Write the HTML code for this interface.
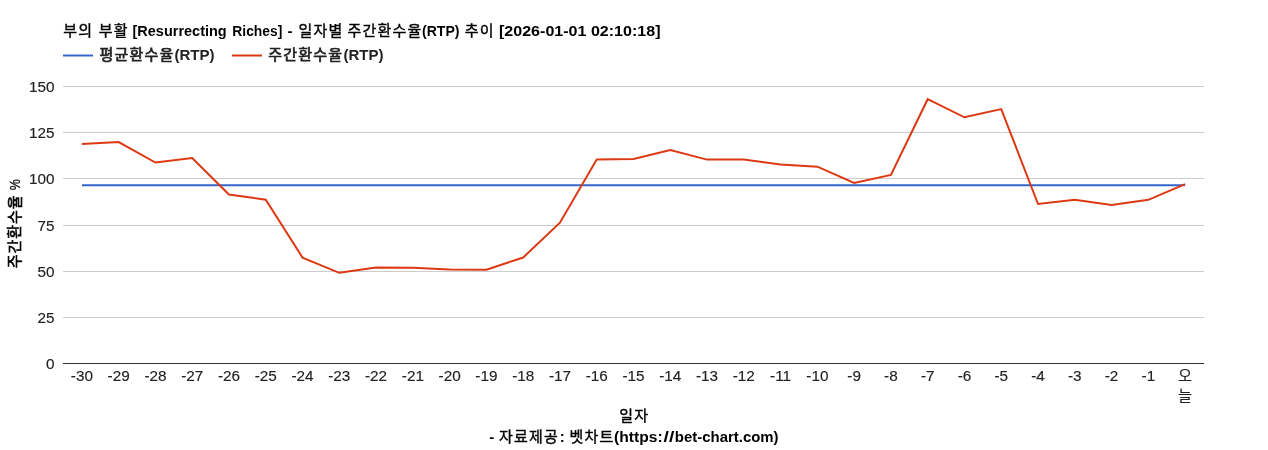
<!DOCTYPE html>
<html lang="ko"><head><meta charset="utf-8"><title>부의 부활 [Resurrecting Riches] - 일자별 주간환수율(RTP) 추이</title>
<style>
html,body{margin:0;padding:0;background:#fff;}
svg{display:block}
text{font-family:"Liberation Sans","Noto Sans CJK KR",sans-serif;font-size:15px;white-space:pre}
.t{fill:#222222;font-size:15.3px;stroke:#222222;stroke-width:0.15px}
.k{font-family:"Noto Sans CJK KR","Liberation Sans",sans-serif;}
.kb{font-family:"Noto Sans CJK KR","Liberation Sans",sans-serif;letter-spacing:1.2px;stroke-width:0.4px;}
.ttl{fill:#000000;stroke:#000000}
.lg{fill:#222222;stroke:#222222}
.lg .kb{stroke-width:0.7px}
.lb{font-weight:bold;stroke:none}
g.aa{filter:url(#idf);will-change:transform}
</style></head><body>
<svg width="1268" height="450" viewBox="0 0 1268 450">
<defs><filter id="idf" x="0" y="0" width="1268" height="450" filterUnits="userSpaceOnUse" color-interpolation-filters="sRGB"><feColorMatrix type="matrix" values="1 0 0 0 0 0 1 0 0 0 0 0 1 0 0 0 0 0 1 0"/></filter></defs>
<rect width="1268" height="450" fill="#ffffff"/>
<rect x="63" y="86" width="1141" height="1" fill="#cccccc"/>
<rect x="63" y="132" width="1141" height="1" fill="#cccccc"/>
<rect x="63" y="178" width="1141" height="1" fill="#cccccc"/>
<rect x="63" y="225" width="1141" height="1" fill="#cccccc"/>
<rect x="63" y="271" width="1141" height="1" fill="#cccccc"/>
<rect x="63" y="317" width="1141" height="1" fill="#cccccc"/>
<rect x="63" y="363" width="1141" height="1" fill="#333333"/>

<path d="M81.89,185.15H1185.11" stroke="#3366cc" stroke-width="2" fill="none"/>
<path d="M81.89,143.90L118.66,142.10L155.44,162.50L192.21,158.10L228.98,194.50L265.76,199.70L302.53,257.60L339.31,272.80L376.08,267.40L412.85,267.80L449.63,269.40L486.40,269.75L523.18,257.50L559.95,222.70L596.73,159.50L633.50,158.90L670.27,150.10L707.05,159.60L743.82,159.60L780.60,164.40L817.37,166.70L854.15,183.00L890.92,174.90L927.69,99.20L964.47,117.30L1001.24,109.10L1038.02,204.00L1074.79,199.80L1111.56,205.10L1148.34,199.80L1185.11,184.20" stroke="#dc3912" stroke-width="2" fill="none"/>
<path d="M63,55.5H93" stroke="#3366cc" stroke-width="2" fill="none"/>
<path d="M232,55.5H262" stroke="#dc3912" stroke-width="2" fill="none"/>
<g class="aa">
<g class="ttl">
<text x="63.3" y="35.5" class="kb">부의 부활</text>
<text x="132.5" y="35.5" class="lb" textLength="94.2" lengthAdjust="spacingAndGlyphs">[Resurrecting</text>
<text x="232.3" y="35.5" class="lb" textLength="50" lengthAdjust="spacingAndGlyphs">Riches]</text>
<text x="287.5" y="35.5" class="lb">-</text>
<text x="298.6" y="35.5" class="kb">일자별</text>
<text x="347.6" y="35.5" class="kb">주간환수율</text>
<text x="422" y="35.5" class="lb" textLength="37.5" lengthAdjust="spacingAndGlyphs">(RTP)</text>
<text x="464.7" y="35.5" class="kb">추이</text>
<text x="499" y="35.5" class="lb" textLength="161.5" lengthAdjust="spacingAndGlyphs">[2026-01-01 02:10:18]</text>
</g>
<g class="lg">
<text x="99.4" y="60" class="kb">평균환수율</text>
<text x="174.5" y="60" class="lb">(RTP)</text>
<text x="268.2" y="60" class="kb">주간환수율</text>
<text x="343.4" y="60" class="lb">(RTP)</text>
</g>
<text x="54.6" y="91.55" text-anchor="end" class="t">150</text>
<text x="54.6" y="137.55" text-anchor="end" class="t">125</text>
<text x="54.6" y="183.55" text-anchor="end" class="t">100</text>
<text x="54.6" y="230.55" text-anchor="end" class="t">75</text>
<text x="54.6" y="276.55" text-anchor="end" class="t">50</text>
<text x="54.6" y="322.55" text-anchor="end" class="t">25</text>
<text x="54.6" y="368.55" text-anchor="end" class="t">0</text>

<text x="81.89" y="381" text-anchor="middle" class="t">-30</text>
<text x="118.66" y="381" text-anchor="middle" class="t">-29</text>
<text x="155.44" y="381" text-anchor="middle" class="t">-28</text>
<text x="192.21" y="381" text-anchor="middle" class="t">-27</text>
<text x="228.98" y="381" text-anchor="middle" class="t">-26</text>
<text x="265.76" y="381" text-anchor="middle" class="t">-25</text>
<text x="302.53" y="381" text-anchor="middle" class="t">-24</text>
<text x="339.31" y="381" text-anchor="middle" class="t">-23</text>
<text x="376.08" y="381" text-anchor="middle" class="t">-22</text>
<text x="412.85" y="381" text-anchor="middle" class="t">-21</text>
<text x="449.63" y="381" text-anchor="middle" class="t">-20</text>
<text x="486.40" y="381" text-anchor="middle" class="t">-19</text>
<text x="523.18" y="381" text-anchor="middle" class="t">-18</text>
<text x="559.95" y="381" text-anchor="middle" class="t">-17</text>
<text x="596.73" y="381" text-anchor="middle" class="t">-16</text>
<text x="633.50" y="381" text-anchor="middle" class="t">-15</text>
<text x="670.27" y="381" text-anchor="middle" class="t">-14</text>
<text x="707.05" y="381" text-anchor="middle" class="t">-13</text>
<text x="743.82" y="381" text-anchor="middle" class="t">-12</text>
<text x="780.60" y="381" text-anchor="middle" class="t">-11</text>
<text x="817.37" y="381" text-anchor="middle" class="t">-10</text>
<text x="854.15" y="381" text-anchor="middle" class="t">-9</text>
<text x="890.92" y="381" text-anchor="middle" class="t">-8</text>
<text x="927.69" y="381" text-anchor="middle" class="t">-7</text>
<text x="964.47" y="381" text-anchor="middle" class="t">-6</text>
<text x="1001.24" y="381" text-anchor="middle" class="t">-5</text>
<text x="1038.02" y="381" text-anchor="middle" class="t">-4</text>
<text x="1074.79" y="381" text-anchor="middle" class="t">-3</text>
<text x="1111.56" y="381" text-anchor="middle" class="t">-2</text>
<text x="1148.34" y="381" text-anchor="middle" class="t">-1</text>
<text x="1185.11" y="381" text-anchor="middle" class="t k">오</text>
<text x="1185.11" y="400.5" text-anchor="middle" class="t k">늘</text>

<g class="ttl">
<text x="619.2" y="421.3" class="kb">일자</text>
<text x="489.3" y="441.5" class="lb">-</text>
<text x="499" y="441.5" class="kb">자료제공</text>
<text x="559.8" y="441.5" class="lb">:</text>
<text x="569.6" y="441.5" class="kb">벳차트</text>
<text x="614" y="441.5" class="lb" textLength="48.6" lengthAdjust="spacingAndGlyphs">(https:</text>
<text x="663.6" y="441.5" class="lb" textLength="10.8" lengthAdjust="spacingAndGlyphs">//</text>
<text x="674.8" y="441.5" class="lb" textLength="103.8" lengthAdjust="spacingAndGlyphs">bet-chart.com)</text>
<g transform="translate(19.8,224) rotate(-90)">
<text x="-44.3" y="0" class="kb" style="stroke-width:0.6px;letter-spacing:0.95px">주간환수율</text>
<text x="33.8" y="0" class="lb" style="font-weight:normal;stroke:#000;stroke-width:0.3px" textLength="11" lengthAdjust="spacingAndGlyphs">%</text>
</g>
</g>
</g>
</svg>
</body></html>
